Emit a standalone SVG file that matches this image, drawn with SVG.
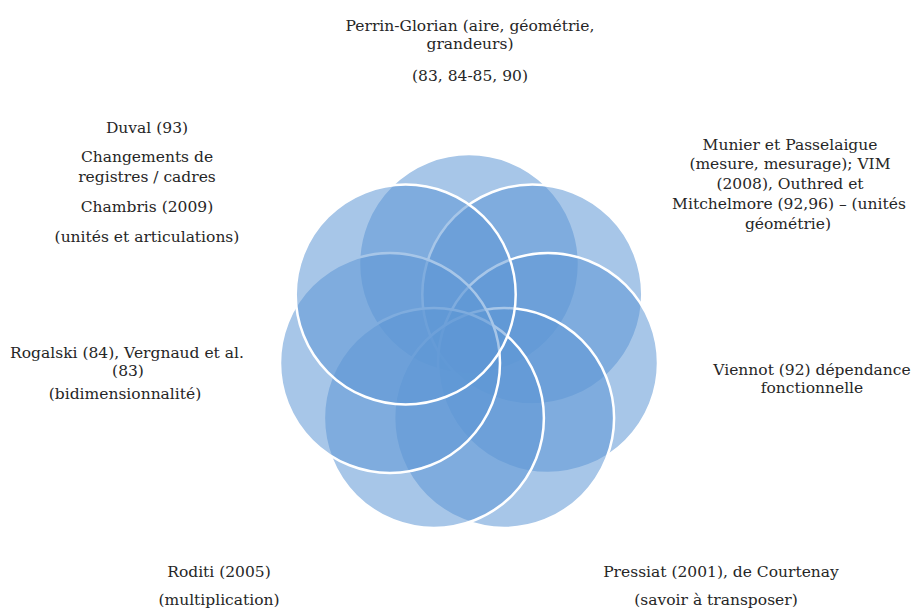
<svg xmlns="http://www.w3.org/2000/svg" width="914" height="608" viewBox="0 0 914 608">
<style>
.c{fill:#5f98d6;fill-opacity:0.55;stroke:#ffffff;stroke-width:2.5}
.t{font-family:"DejaVu Serif","Liberation Serif",serif;font-size:15.5px;fill:#262626;text-anchor:middle}
</style>
<rect width="914" height="608" fill="#ffffff"/>
<g id="connectors"></g>
<g id="perrin">
<circle class="c" cx="469" cy="264" r="110"/>
<text class="t" x="470" y="31">Perrin-Glorian (aire, géométrie,</text>
<text class="t" x="470" y="49">grandeurs)</text>
<text class="t" x="470" y="81">(83, 84-85, 90)</text>
</g>
<g id="munier">
<circle class="c" cx="532.3" cy="294.5" r="110"/>
<text class="t" x="790" y="150">Munier et Passelaigue</text>
<text class="t" x="790" y="169">(mesure, mesurage); VIM</text>
<text class="t" x="790" y="189">(2008), Outhred et</text>
<text class="t" x="789" y="209">Mitchelmore (92,96) – (unités</text>
<text class="t" x="788" y="229">géométrie)</text>
</g>
<g id="viennot">
<circle class="c" cx="548" cy="363" r="110"/>
<text class="t" x="812" y="375">Viennot (92) dépendance</text>
<text class="t" x="812" y="393">fonctionnelle</text>
</g>
<g id="pressiat">
<circle class="c" cx="504.1" cy="418" r="110"/>
<text class="t" x="721" y="577">Pressiat (2001), de Courtenay</text>
<text class="t" x="716" y="605">(savoir à transposer)</text>
</g>
<g id="roditi">
<circle class="c" cx="433.9" cy="418" r="110"/>
<text class="t" x="219" y="577">Roditi (2005)</text>
<text class="t" x="219" y="605">(multiplication)</text>
</g>
<g id="rogalski">
<circle class="c" cx="390" cy="363" r="110"/>
<text class="t" x="127" y="358">Rogalski (84), Vergnaud et al.</text>
<text class="t" x="128" y="376">(83)</text>
<text class="t" x="125" y="399">(bidimensionnalité)</text>
</g>
<g id="duval">
<circle class="c" cx="405.7" cy="294.5" r="110"/>
<text class="t" x="147" y="133">Duval (93)</text>
<text class="t" x="147" y="162">Changements de</text>
<text class="t" x="147" y="182">registres / cadres</text>
<text class="t" x="147" y="212">Chambris (2009)</text>
<text class="t" x="147" y="242">(unités et articulations)</text>
</g>
</svg>
